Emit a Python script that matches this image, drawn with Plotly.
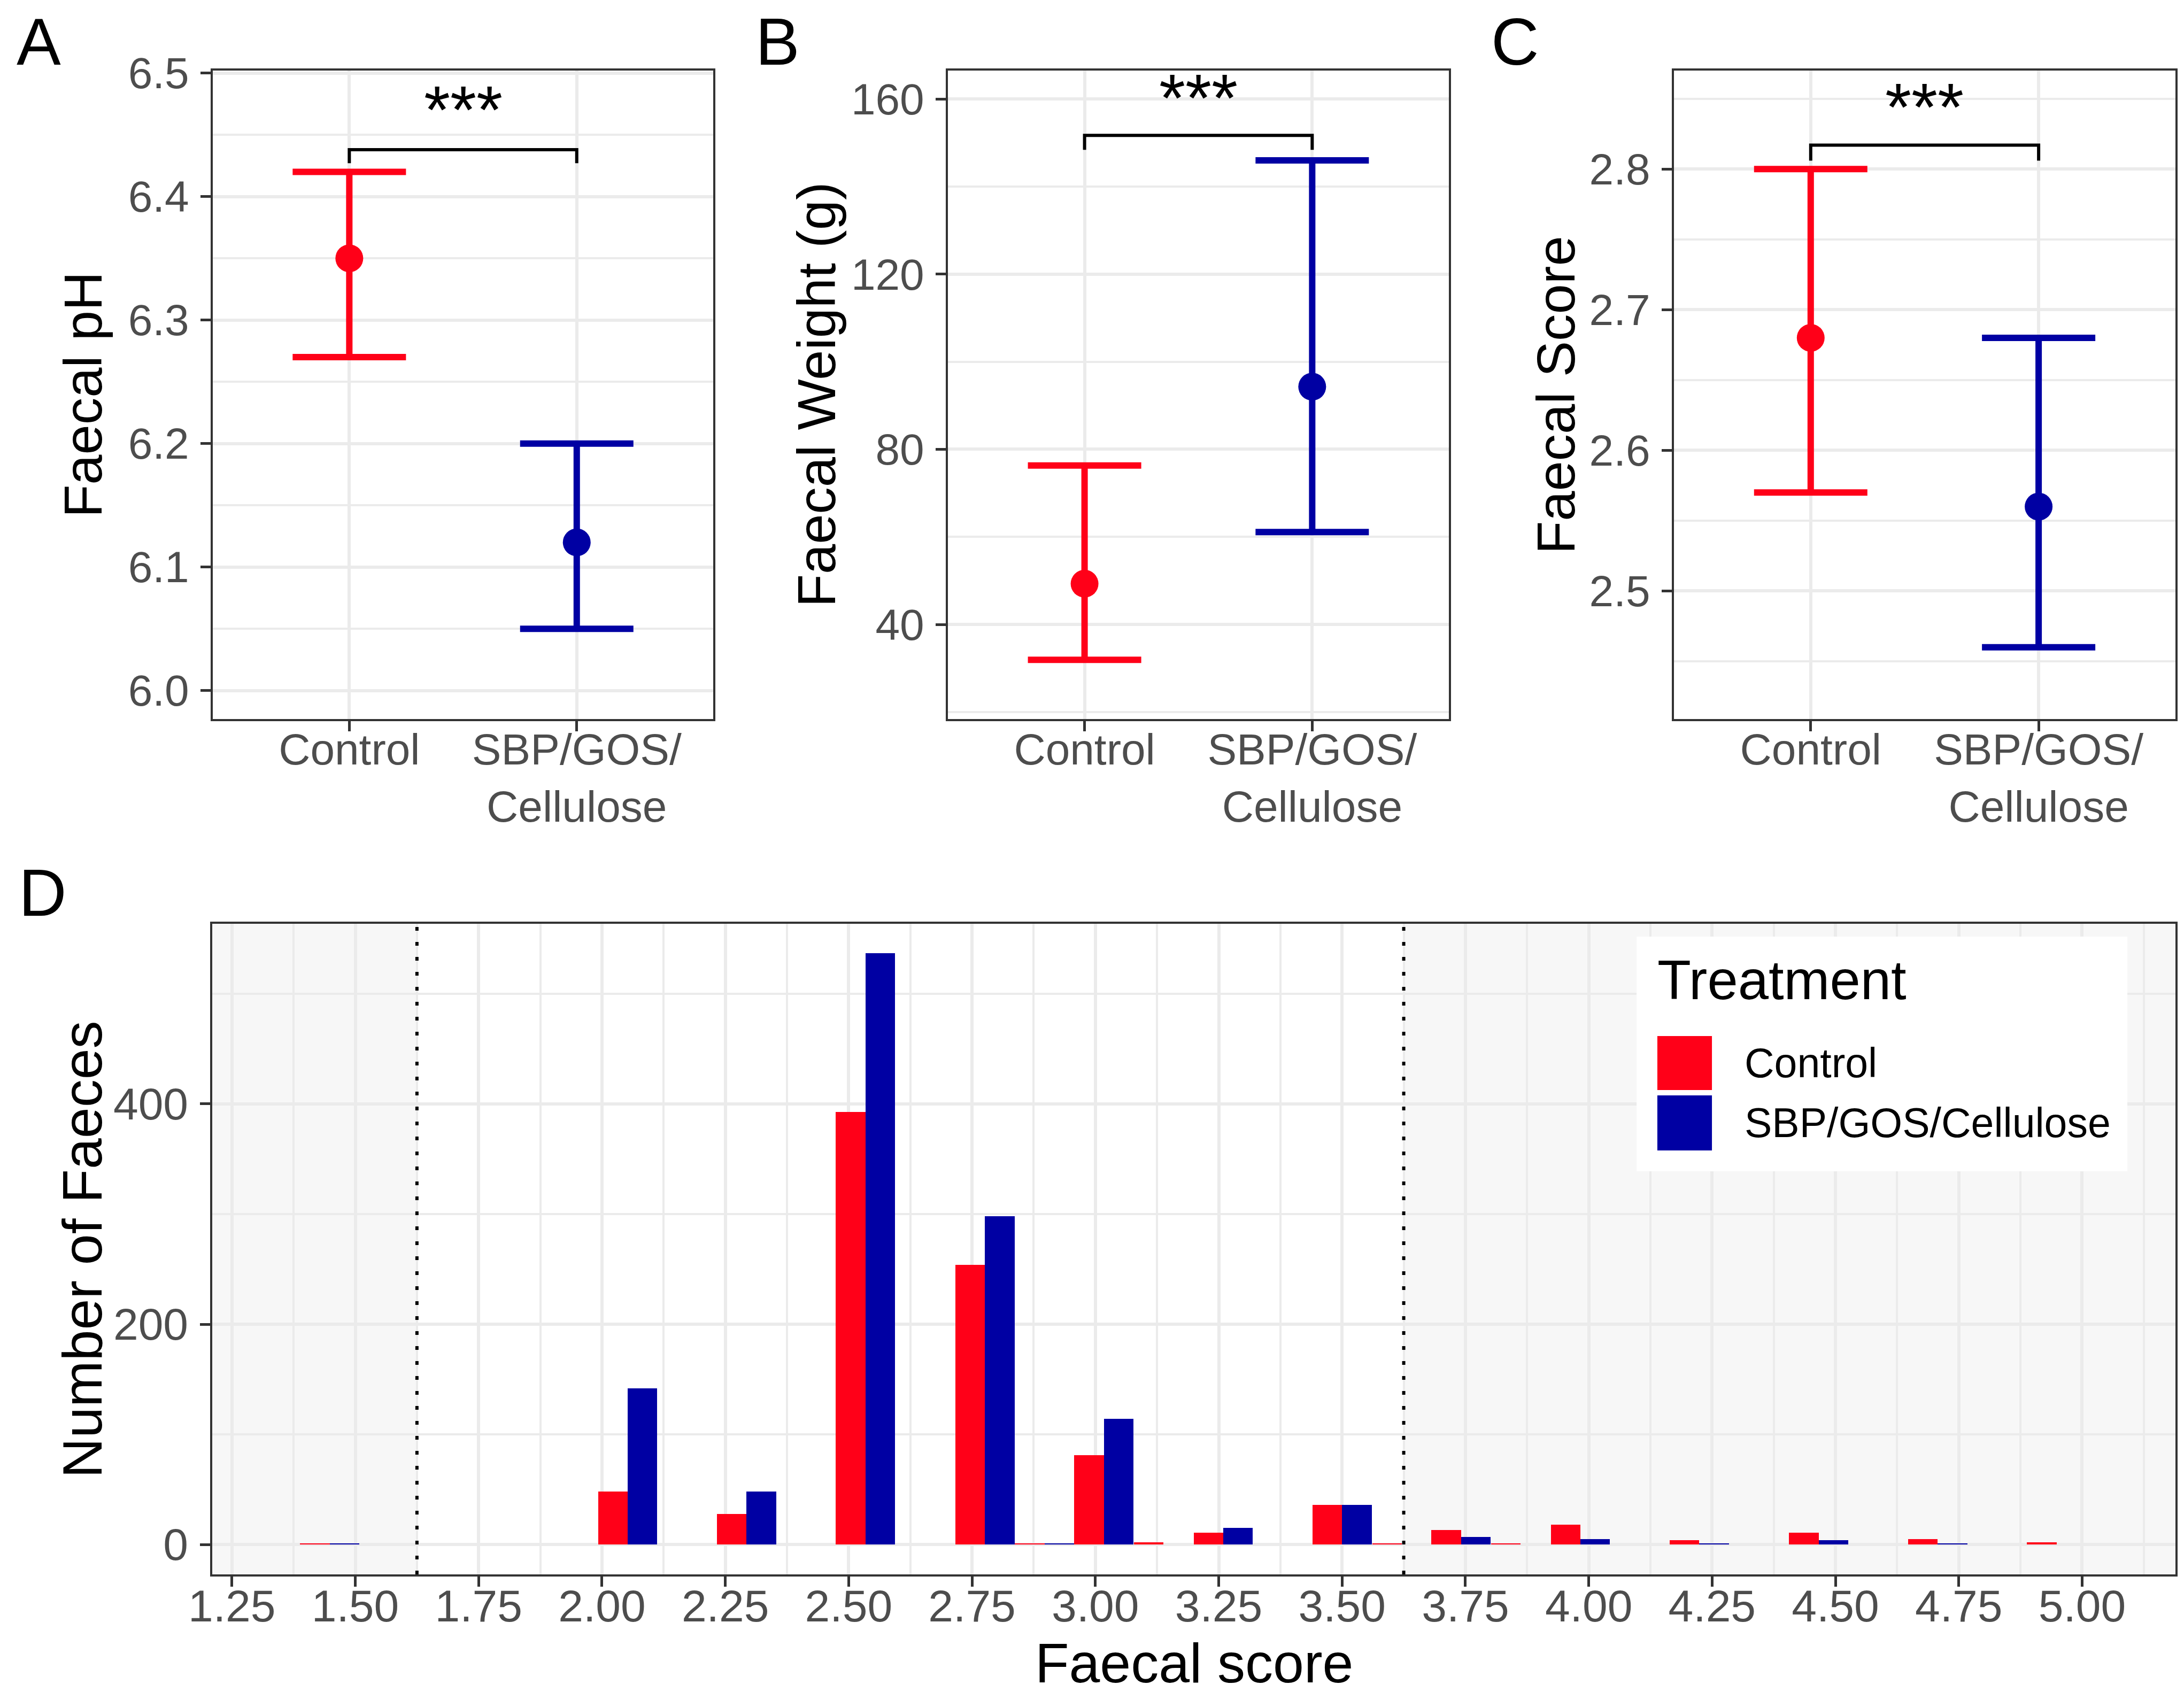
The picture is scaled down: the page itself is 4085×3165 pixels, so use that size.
import plotly.graph_objects as go

FONT = "Liberation Sans, Arial, sans-serif"
W, H = 4085, 3165

# --- data ---
groups = ["Control", "SBP/GOS/<br>Cellulose"]
group_pos = [1, 2]
colours = ["#FF0018", "#0000A3"]

ph_mean = [6.35, 6.12]
ph_lower = [6.27, 6.05]
ph_upper = [6.42, 6.20]

weight_mean = [49.3, 94.3]
weight_lower = [31.9, 61.1]
weight_upper = [76.3, 146.0]

score_mean = [2.68, 2.56]
score_lower = [2.57, 2.46]
score_upper = [2.80, 2.68]

# significance brackets: tip, bar height, star position
ph_bracket = [6.427, 6.438, 6.470]
weight_bracket = [148.4, 151.7, 160.2]
score_bracket = [2.806, 2.817, 2.844]
sig_label = "***"

# panel D histogram (bin centres and counts per treatment)
bin_centres = [1.448, 2.052, 2.293, 2.534, 2.776, 2.897, 3.017, 3.138, 3.259,
               3.500, 3.621, 3.741, 3.862, 3.983, 4.224, 4.466, 4.707, 4.948]
control_counts = [1, 48, 28, 393, 254, 1, 81, 2, 11, 36, 1, 13, 1, 18, 4, 11, 5, 2]
sbp_counts = [1, 142, 48, 537, 298, 1, 114, 0, 15, 36, 0, 7, 0, 5, 1, 4, 1, 0]
score_cutoffs = [1.625, 3.625]
treatments = ["Control", "SBP/GOS/Cellulose"]

d_xrange = [1.210, 5.189]
d_yrange = [-27.2, 563.6]

panels = [
    dict(mean=ph_mean, lower=ph_lower, upper=ph_upper, bracket=ph_bracket,
         title="Faecal pH", yrange=[5.977, 6.502], dtick=0.1, tick0=6.0, fmt=".1f",
         xdom=[0.0955, 0.3246], letter="A", lx=0.0051, tx=0.0362),
    dict(mean=weight_mean, lower=weight_lower, upper=weight_upper, bracket=weight_bracket,
         title="Faecal Weight (g)", yrange=[18.4, 166.5], dtick=40, tick0=0, fmt="d",
         xdom=[0.4321, 0.6614], letter="B", lx=0.3435, tx=0.3719),
    dict(mean=score_mean, lower=score_lower, upper=score_upper, bracket=score_bracket,
         title="Faecal Score", yrange=[2.409, 2.870], dtick=0.1, tick0=2.5, fmt=".1f",
         xdom=[0.7645, 0.9941], letter="C", lx=0.6803, tx=0.7104),
]
top_ydom = [0.5776, 0.9608]
d_xdom = [0.0952, 0.9941]
d_ydom = [0.0720, 0.4566]

axis_style = dict(
    showline=True, mirror=True, linecolor="#333333", linewidth=4,
    ticks="outside", ticklen=19, tickwidth=5, tickcolor="#333333",
    showgrid=True, gridcolor="#EBEBEB", gridwidth=6, zeroline=False,
    automargin=False,
)
minor_grid = dict(showgrid=True, gridcolor="#EBEBEB", gridwidth=3.5)

fig = go.Figure()
layout = {}
annotations = []

for i, p in enumerate(panels):
    n = "" if i == 0 else str(i + 1)
    xa, ya = "x" + n, "y" + n
    for g in range(2):
        fig.add_trace(go.Scatter(
            x=[group_pos[g]], y=[p["mean"][g]], mode="markers",
            marker=dict(color=colours[g], size=52),
            error_y=dict(type="data", symmetric=False,
                         array=[p["upper"][g] - p["mean"][g]],
                         arrayminus=[p["mean"][g] - p["lower"][g]],
                         color=colours[g], thickness=12, width=106),
            xaxis=xa, yaxis=ya, showlegend=False, hoverinfo="skip"))
    tip, bar, star_y = p["bracket"]
    fig.add_trace(go.Scatter(
        x=[group_pos[0], group_pos[0], group_pos[1], group_pos[1]],
        y=[tip, bar, bar, tip], mode="lines",
        line=dict(color="black", width=6),
        xaxis=xa, yaxis=ya, showlegend=False, hoverinfo="skip"))
    annotations.append(dict(x=1.5, y=star_y, xref=xa, yref=ya, text=sig_label,
                            showarrow=False, font=dict(size=126, color="black")))

    layout["xaxis" + n] = dict(axis_style, domain=p["xdom"], anchor=ya, range=[0.4, 2.6],
                               tickvals=group_pos, ticktext=groups, ticklabelstandoff=-36,
                               tickfont=dict(size=82, color="#4D4D4D"))
    layout["yaxis" + n] = dict(axis_style, domain=top_ydom, anchor=xa, range=p["yrange"],
                               dtick=p["dtick"], tick0=p["tick0"], tickformat=p["fmt"],
                               ticklabelstandoff=5,
                               tickfont=dict(size=82, color="#4D4D4D"),
                               minor=dict(minor_grid, dtick=p["dtick"] / 2, tick0=p["tick0"]))
    annotations.append(dict(x=p["lx"], y=0.9779, xref="paper", yref="paper", text=p["letter"],
                            xanchor="left", yanchor="middle", showarrow=False,
                            font=dict(size=124, color="black")))
    annotations.append(dict(x=p["tx"], y=0.7692, xref="paper", yref="paper", text=p["title"],
                            textangle=-90, xanchor="center", yanchor="middle", showarrow=False,
                            font=dict(size=101, color="black")))

# panel D
for counts, col, name in [(control_counts, colours[0], treatments[0]),
                          (sbp_counts, colours[1], treatments[1])]:
    fig.add_trace(go.Bar(x=bin_centres, y=counts, name=name,
                         marker=dict(color=col, line=dict(width=0)),
                         xaxis="x4", yaxis="y4", showlegend=False))

layout["xaxis4"] = dict(axis_style, domain=d_xdom, anchor="y4", range=d_xrange,
                        dtick=0.25, tick0=1.25, tickformat=".2f", ticklabelstandoff=-36,
                        tickfont=dict(size=84, color="#4D4D4D"),
                        minor=dict(minor_grid, dtick=0.125, tick0=1.25))
layout["yaxis4"] = dict(axis_style, domain=d_ydom, anchor="x4", range=d_yrange,
                        dtick=200, tick0=0, ticklabelstandoff=5,
                        tickfont=dict(size=84, color="#4D4D4D"),
                        minor=dict(minor_grid, dtick=100, tick0=0))

shapes = [
    dict(type="rect", xref="x4", yref="y4 domain", x0=d_xrange[0], x1=score_cutoffs[0],
         y0=0, y1=1, fillcolor="#F7F7F7", line=dict(width=0), layer="below"),
    dict(type="rect", xref="x4", yref="y4 domain", x0=score_cutoffs[1], x1=d_xrange[1],
         y0=0, y1=1, fillcolor="#F7F7F7", line=dict(width=0), layer="below"),
]
for c in score_cutoffs:
    shapes.append(dict(type="line", xref="x4", yref="y4 domain", x0=c, x1=c, y0=0, y1=1,
                       line=dict(color="black", width=6, dash="7px,21px")))

# legend drawn by hand so the keys can be as large as in the original
shapes.append(dict(type="rect", xref="paper", yref="paper", x0=0.7474, x1=0.9721,
                   y0=0.3103, y1=0.4490, fillcolor="white", line=dict(width=0)))
shapes.append(dict(type="rect", xref="paper", yref="paper", x0=0.7569, x1=0.7819,
                   y0=0.3583, y1=0.3902, fillcolor=colours[0], line=dict(width=0)))
shapes.append(dict(type="rect", xref="paper", yref="paper", x0=0.7569, x1=0.7819,
                   y0=0.3226, y1=0.3551, fillcolor=colours[1], line=dict(width=0)))
annotations += [
    dict(x=0.7564, y=0.4231, xref="paper", yref="paper", text="Treatment", xanchor="left",
         yanchor="middle", showarrow=False, font=dict(size=103, color="black")),
    dict(x=0.7963, y=0.3744, xref="paper", yref="paper", text=treatments[0], xanchor="left",
         yanchor="middle", showarrow=False, font=dict(size=77, color="black")),
    dict(x=0.7963, y=0.3390, xref="paper", yref="paper", text=treatments[1], xanchor="left",
         yanchor="middle", showarrow=False, font=dict(size=77, color="black")),
    dict(x=0.0061, y=0.4749, xref="paper", yref="paper", text="D", xanchor="left",
         yanchor="middle", showarrow=False, font=dict(size=124, color="black")),
    dict(x=0.0357, y=0.2641, xref="paper", yref="paper", text="Number of Faeces", textangle=-90,
         xanchor="center", yanchor="middle", showarrow=False, font=dict(size=104, color="black")),
    dict(x=0.5447, y=0.0196, xref="paper", yref="paper", text="Faecal score",
         xanchor="center", yanchor="middle", showarrow=False, font=dict(size=104, color="black")),
]

fig.update_layout(
    width=W, height=H, margin=dict(l=0, r=0, t=0, b=0, pad=0, autoexpand=False),
    paper_bgcolor="white", plot_bgcolor="white",
    font=dict(family=FONT, color="black"),
    barmode="group", bargap=0, bargroupgap=0,
    showlegend=False, shapes=shapes, annotations=annotations,
    **layout,
)

fig.write_html("out.html")
